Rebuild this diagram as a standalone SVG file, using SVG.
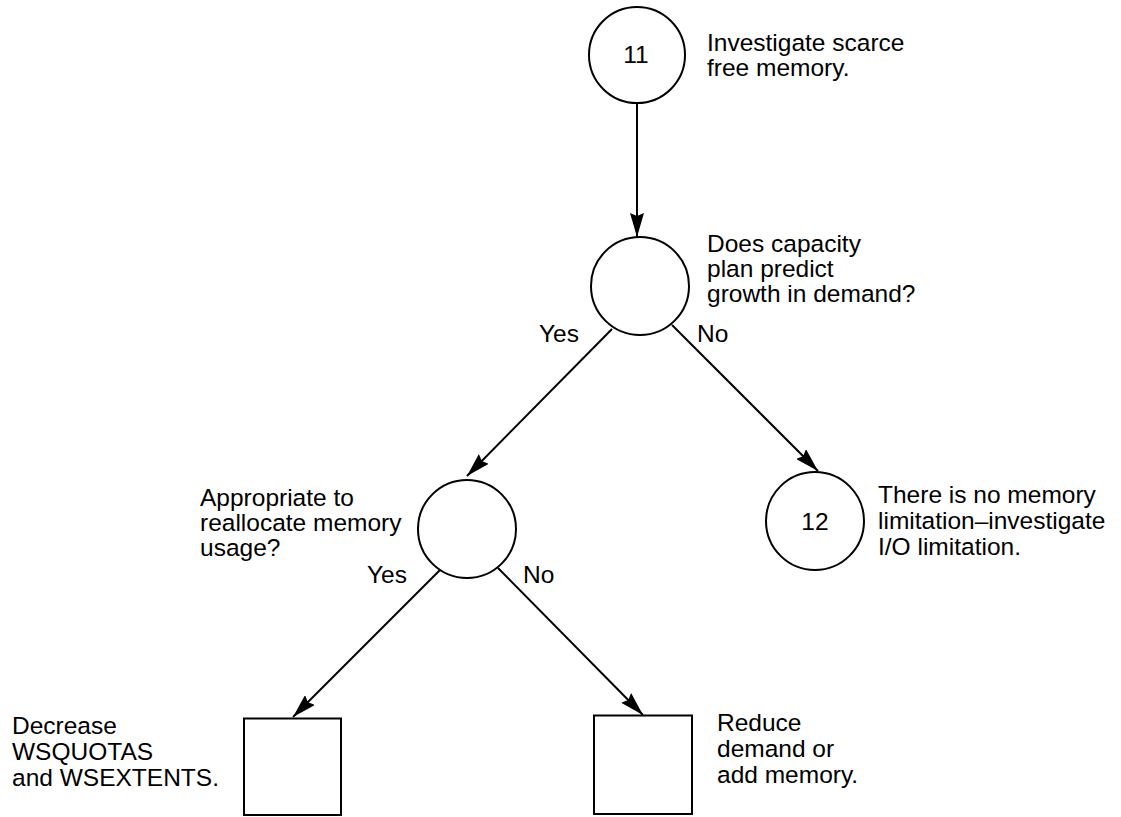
<svg xmlns="http://www.w3.org/2000/svg" width="1121" height="817" viewBox="0 0 1121 817">
<defs>
<style>
.shape{fill:#fff;stroke:#000;stroke-width:2}
.edge{fill:none;stroke:#000;stroke-width:2}
text{font-family:"Liberation Sans",Arial,sans-serif;font-size:24.5px;fill:#000}
.num{text-anchor:middle}
</style>
<marker id="arr" viewBox="0 0 24 14" refX="24" refY="7" markerWidth="24" markerHeight="14" markerUnits="userSpaceOnUse" orient="auto">
<path d="M0,0 L24,7 L0,14 L3,7 z" fill="#000"/>
</marker>
</defs>
<rect width="1121" height="817" fill="#fff"/>
<g id="connectors">
<line class="edge" x1="637" y1="103" x2="637" y2="237" marker-end="url(#arr)"/>
<line class="edge" x1="612" y1="329" x2="467" y2="476" marker-end="url(#arr)"/>
<line class="edge" x1="672" y1="325" x2="818" y2="471" marker-end="url(#arr)"/>
<line class="edge" x1="440" y1="570" x2="293" y2="717" marker-end="url(#arr)"/>
<line class="edge" x1="498" y1="568" x2="643" y2="715" marker-end="url(#arr)"/>
<text x="539" y="342">Yes</text>
<text x="697" y="342">No</text>
<text x="367" y="583">Yes</text>
<text x="523" y="583">No</text>
</g>
<g id="n11">
<circle class="shape" cx="637" cy="55" r="48"/>
<text class="num" x="636" y="63">11</text>
<text x="707" y="51">Investigate scarce</text>
<text x="707" y="76">free memory.</text>
</g>
<g id="q1">
<circle class="shape" cx="640" cy="286" r="49"/>
<text x="707" y="252">Does capacity</text>
<text x="707" y="277">plan predict</text>
<text x="707" y="302">growth in demand?</text>
</g>
<g id="q2">
<circle class="shape" cx="467" cy="529" r="49"/>
<text x="200" y="506">Appropriate to</text>
<text x="200" y="531">reallocate memory</text>
<text x="200" y="556">usage?</text>
</g>
<g id="n12">
<circle class="shape" cx="815" cy="521" r="49"/>
<text class="num" x="815" y="530">12</text>
<text x="878" y="503">There is no memory</text>
<text x="878" y="529">limitation–investigate</text>
<text x="878" y="555">I/O limitation.</text>
</g>
<g id="a1">
<rect class="shape" x="244" y="718.5" width="97" height="96.5"/>
<text x="12" y="734">Decrease</text>
<text x="12" y="760">WSQUOTAS</text>
<text x="12" y="786">and WSEXTENTS.</text>
</g>
<g id="a2">
<rect class="shape" x="594" y="715.5" width="98" height="98.5"/>
<text x="717" y="731">Reduce</text>
<text x="717" y="757">demand or</text>
<text x="717" y="783">add memory.</text>
</g>
</svg>
